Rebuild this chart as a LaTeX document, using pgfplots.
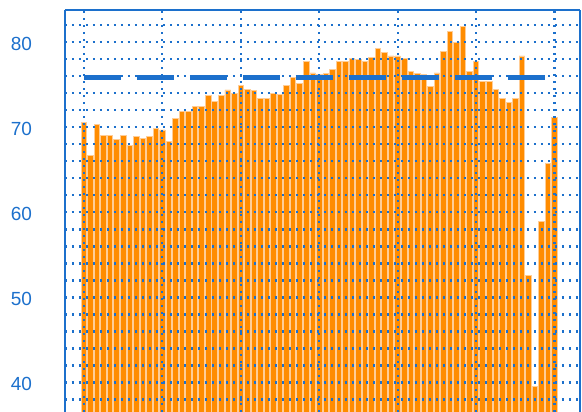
\documentclass[border=0pt]{standalone}
\usepackage{fontspec}
\setmainfont{Liberation Sans}
\usepackage{pgfplots}
\pgfplotsset{compat=1.18}
\definecolor{mblue}{RGB}{28,112,204}
\definecolor{morange}{RGB}{255,140,0}
\definecolor{medge}{RGB}{255,205,150}
\begin{document}
\begin{tikzpicture}
\begin{axis}[
  scale only axis,
  width=257.5pt, height=201pt,
  xmin=-2.9, xmax=75.9,
  ymin=36.53, ymax=83.8,
  separate axis lines,
  axis x line=top, axis y line=box,
  x axis line style={-, mblue, line width=1pt},
  y axis line style={-, mblue, line width=1pt},
  xtick={0,12,...,72}, xticklabels={},
  ytick={40,50,...,80},
  minor ytick={38,40,...,82},
  major tick length=0pt, minor tick length=0pt,
  grid=both,
  major grid style={mblue, line width=1.1pt, dash pattern=on 1.1pt off 2.4pt},
  minor grid style={mblue, line width=1.1pt, dash pattern=on 1.1pt off 2.4pt},
  /pgf/number format/assume math mode=true,
  yticklabel style={font=\fontsize{9.5}{11}\selectfont, text=mblue, xshift=-13pt, yshift=-0.8pt},
  axis on top,
  ybar, bar width=0.85,
]
\addplot[fill=morange, draw=medge, line width=0.4pt] coordinates {
(0,70.6) (1,66.7) (2,70.3) (3,69.0) (4,69.0) (5,68.6) (6,69.0) (7,67.9) (8,68.9) (9,68.7)
(10,68.9) (11,69.9) (12,69.7) (13,68.3) (14,71.0) (15,71.9) (16,71.9) (17,72.5) (18,72.5) (19,73.8)
(20,73.0) (21,73.8) (22,74.4) (23,74.0) (24,74.9) (25,74.5) (26,74.3) (27,73.4) (28,73.4) (29,74.0)
(30,73.9) (31,74.9) (32,75.9) (33,75.2) (34,77.8) (35,76.4) (36,76.2) (37,76.3) (38,76.8) (39,77.8)
(40,77.8) (41,78.1) (42,78.0) (43,77.8) (44,78.2) (45,79.3) (46,78.8) (47,78.4) (48,78.4) (49,78.1)
(50,76.6) (51,76.3) (52,76.2) (53,74.8) (54,76.4) (55,78.9) (56,81.3) (57,80.0) (58,81.9) (59,76.6)
(60,77.7) (61,75.4) (62,75.4) (63,74.5) (64,73.4) (65,72.9) (66,73.4) (67,78.4) (68,52.6) (69,39.5)
(70,58.9) (71,65.8) (72,71.2)
};
\addplot[sharp plot, mblue, line width=2.5pt, dash pattern=on 18.5pt off 8pt] coordinates {(0,75.9) (72,75.9)};
\end{axis}
\pgfresetboundingbox
\useasboundingbox ([shift={(-32.5pt,0pt)}]current axis.south west) rectangle ([shift={(1pt,5pt)}]current axis.north east);
\end{tikzpicture}
\end{document}
